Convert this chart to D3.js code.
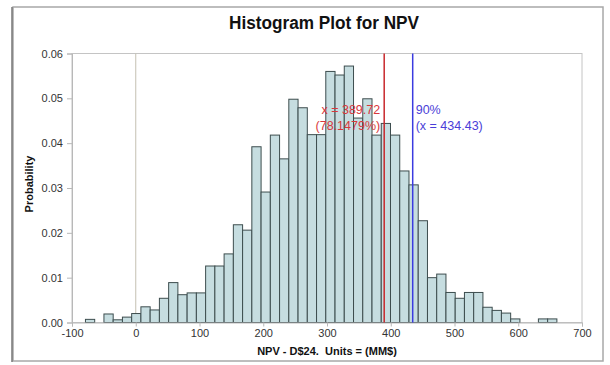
<!DOCTYPE html>
<html>
<head>
<meta charset="utf-8">
<script src="https://cdn.jsdelivr.net/npm/d3@7"></script>
<style>
  body { margin: 0; background: #fff; }
  text { font-family: "Liberation Sans", Arial, sans-serif; }
</style>
</head>
<body>
<svg id="hist" width="610" height="365"></svg>
<script>
// histogram bins: first lower edge and width (NPV, MM$)
var binMin = -78.9,
    binWidth = 14.5;

// probability per bin
var probs = [
  0.0007, 0, 0.0019, 0.0006, 0.0012, 0.0020, 0.0035, 0.0028, 0.0054, 0.0089,
  0.0062, 0.0066, 0.0066, 0.0126, 0.0126, 0.0153, 0.0218, 0.0206, 0.0392, 0.0291,
  0.0418, 0.0365, 0.0498, 0.0479, 0.0419, 0.0419, 0.0560, 0.0552, 0.0572, 0.0456,
  0.0499, 0.0418, 0.0444, 0.0418, 0.0338, 0.0307, 0.0227, 0.0100, 0.0108, 0.0067,
  0.0054, 0.0067, 0.0067, 0.0034, 0.0027, 0.0021, 0.0008, 0, 0, 0.0008,
  0.0008
];

var xTicks = [-100, 0, 100, 200, 300, 400, 500, 600, 700];
var yTicks = [0, 0.01, 0.02, 0.03, 0.04, 0.05, 0.06];

// marker lines
var redX = 389.72, redLabel = ["x = 389.72", "(78.1479%)"];
var blueX = 434.43, blueLabel = ["90%", "(x = 434.43)"];

var svg = d3.select("#hist"),
    margin = { top: 53.5, right: 28, bottom: 42.5, left: 72 },
    width = +svg.attr("width") - margin.left - margin.right,
    height = +svg.attr("height") - margin.top - margin.bottom;

// outer frame
svg.append("rect")
  .attr("x", 13).attr("y", 7)
  .attr("width", 590).attr("height", 354)
  .attr("fill", "#fff")
  .attr("stroke", "#a8a8a8")
  .attr("stroke-width", 1.5);
svg.append("line")
  .attr("x1", 12).attr("x2", 12).attr("y1", 7).attr("y2", 362)
  .attr("stroke", "#777").attr("stroke-width", 1.5);

var x = d3.scaleLinear()
  .domain([-100, 700])
  .range([margin.left, margin.left + width]);

var y = d3.scaleLinear()
  .domain([0, 0.06])
  .range([margin.top + height, margin.top]);

// plot box
svg.append("rect")
  .attr("x", margin.left).attr("y", margin.top)
  .attr("width", width).attr("height", height)
  .attr("fill", "none")
  .attr("stroke", "#c4c4c4");

// zero line
svg.append("line")
  .attr("x1", x(0)).attr("x2", x(0))
  .attr("y1", y(0)).attr("y2", y(0.06))
  .attr("stroke", "#c4c0b2");

var bins = probs.map((p, i) => ({
  x0: binMin + i * binWidth,
  x1: binMin + (i + 1) * binWidth,
  p: p
}));

svg.append("g")
  .selectAll("rect")
  .data(bins.filter((d) => d.p > 0))
  .join("rect")
  .attr("x", (d) => x(d.x0))
  .attr("y", (d) => y(d.p))
  .attr("width", (d) => x(d.x1) - x(d.x0))
  .attr("height", (d) => y(0) - y(d.p))
  .attr("fill", "#c6dde0")
  .attr("stroke", "#3d4d4e")
  .attr("stroke-width", 1);

// axes
var xAxis = svg.append("g")
  .attr("transform", "translate(0," + y(0) + ")")
  .call(d3.axisBottom(x).tickValues(xTicks).tickSize(4).tickPadding(3).tickFormat((d) => String(d)));

var yAxis = svg.append("g")
  .attr("transform", "translate(" + margin.left + ",0)")
  .call(d3.axisLeft(y).tickValues(yTicks).tickSize(5).tickPadding(4).tickFormat((d) => d.toFixed(2)));

[xAxis, yAxis].forEach((g) => {
  g.select(".domain").attr("stroke", "#b8b8b8");
  g.selectAll(".tick line").attr("stroke", "#b8b8b8");
  g.selectAll(".tick text")
    .attr("fill", "#333")
    .style("font-size", "11px")
    .style("font-family", "'Liberation Sans', Arial, sans-serif");
});

// marker lines and labels
svg.append("line")
  .attr("x1", x(redX)).attr("x2", x(redX))
  .attr("y1", y(0)).attr("y2", y(0.06))
  .attr("stroke", "#c8282c").attr("stroke-width", 1.5);

svg.append("line")
  .attr("x1", x(blueX)).attr("x2", x(blueX))
  .attr("y1", y(0)).attr("y2", y(0.06))
  .attr("stroke", "#3b3be0").attr("stroke-width", 1.5);

svg.append("g")
  .selectAll("text")
  .data(redLabel)
  .join("text")
  .attr("x", x(redX) - 4)
  .attr("y", (d, i) => 114 + i * 16)
  .attr("text-anchor", "end")
  .attr("fill", "#d8383c")
  .style("font-size", "12.5px")
  .text((d) => d);

svg.append("g")
  .selectAll("text")
  .data(blueLabel)
  .join("text")
  .attr("x", x(blueX) + 3)
  .attr("y", (d, i) => 114 + i * 16)
  .attr("fill", "#4a3ed8")
  .style("font-size", "12.5px")
  .text((d) => d);

// titles
svg.append("text")
  .attr("x", 324)
  .attr("y", 29)
  .attr("text-anchor", "middle")
  .attr("textLength", 190)
  .attr("lengthAdjust", "spacingAndGlyphs")
  .style("font-size", "18px")
  .style("font-weight", "bold")
  .attr("fill", "#111")
  .text("Histogram Plot for NPV");

svg.append("text")
  .attr("x", 327)
  .attr("y", 355)
  .attr("text-anchor", "middle")
  .style("font-size", "11px")
  .style("font-weight", "bold")
  .style("white-space", "pre")
  .attr("fill", "#111")
  .text("NPV - D$24.  Units = (MM$)");

svg.append("text")
  .attr("transform", "translate(33,184) rotate(-90)")
  .attr("text-anchor", "middle")
  .style("font-size", "11px")
  .style("font-weight", "bold")
  .attr("fill", "#111")
  .text("Probability");
</script>
</body>
</html>
